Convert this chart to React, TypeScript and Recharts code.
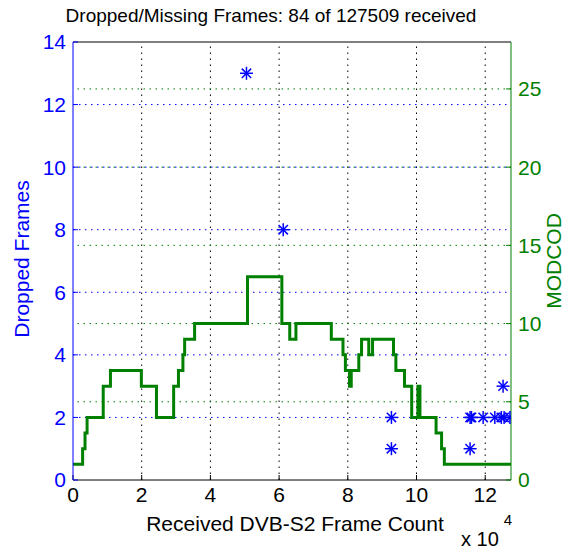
import React from 'react';
import { ComposedChart, Line, Scatter, XAxis, YAxis, ReferenceLine } from 'recharts';

// MODCOD step trace (x in units of 10^4 frames)
const modcodX = [0, 0.28, 0.35, 0.41, 0.88, 1.09, 1.99, 2.43, 2.93, 3.07, 3.2, 3.25, 3.54, 5.08, 6.08, 6.31, 6.49, 7.52, 7.86, 7.93, 8.05, 8.1, 8.32, 8.4, 8.61, 8.72, 9.33, 9.4, 9.65, 9.86, 10.04, 10.1, 10.57, 10.73, 10.81, 12.75];
const modcodLevel = [1, 2, 3, 4, 6, 7, 6, 4, 6, 7, 8, 9, 10, 13, 10, 9, 10, 9, 8, 7, 6, 7, 8, 9, 8, 9, 8, 7, 6, 4, 6, 4, 3, 2, 1, 1];

// dropped frames events
const dropX = [5.05, 6.12, 9.27, 9.27, 11.56, 11.56, 11.6, 11.94, 12.28, 12.47, 12.52, 12.55, 12.72];
const dropCount = [13, 8, 2, 1, 1, 2, 2, 2, 2, 2, 3, 2, 2];

const xTicks = [0, 2, 4, 6, 8, 10, 12];
const leftTicks = [0, 2, 4, 6, 8, 10, 12, 14];
const rightTicks = [0, 5, 10, 15, 20, 25];

const BLUE = '#0000ff';
const GREEN = '#008000';
const FONT = '"Liberation Sans", Arial, sans-serif';

const modcodData = modcodX.map((x, i) => ({ x, v: modcodLevel[i] }));
const dropData = dropX.map((x, i) => ({ x, d: dropCount[i] }));

const Asterisk = (props: any) => {
  const { cx, cy } = props;
  const r = 6.5;
  const k = r * 0.72;
  return (
    <g stroke={BLUE} strokeWidth={1.5}>
      <line x1={cx - r} y1={cy} x2={cx + r} y2={cy} />
      <line x1={cx} y1={cy - r} x2={cx} y2={cy + r} />
      <line x1={cx - k} y1={cy - k} x2={cx + k} y2={cy + k} />
      <line x1={cx - k} y1={cy + k} x2={cx + k} y2={cy - k} />
    </g>
  );
};

const dots = '1.5 4.5';

export default function App() {
  return (
    <div style={{ position: 'absolute', left: 0, top: 0, width: 573, height: 550, background: '#fff', fontFamily: FONT }}>
      <div style={{ position: 'absolute', left: 0, width: 542, top: 5, textAlign: 'center', fontSize: 19, color: '#000' }}>
        Dropped/Missing Frames: 84 of 127509 received
      </div>
      <div style={{ position: 'absolute', left: 461, top: 528, fontSize: 20, color: '#000' }}>
        x 10<span style={{ position: 'relative', top: -21, left: 5, fontSize: 15 }}>4</span>
      </div>
      <ComposedChart
        width={573}
        height={550}
        margin={{ top: 42, right: 22, bottom: 40, left: 33 }}
        style={{ fontFamily: FONT }}
      >
        {xTicks.slice(1).map(t => (
          <ReferenceLine key={'vx' + t} x={t} yAxisId="left" stroke="#000" strokeDasharray={dots} />
        ))}
        {leftTicks.slice(1, -1).map(t => (
          <ReferenceLine key={'hl' + t} y={t} yAxisId="left" stroke={BLUE} strokeDasharray={dots} />
        ))}
        {rightTicks.slice(1).map(t => (
          <ReferenceLine key={'hr' + t} y={t} yAxisId="right" stroke={GREEN} strokeDasharray={dots} />
        ))}
        <ReferenceLine y={14} yAxisId="left" stroke="#000" />
        <XAxis
          dataKey="x"
          type="number"
          domain={[0, 12.7509]}
          ticks={xTicks}
          allowDataOverflow
          stroke="#000"
          height={30}
          tickSize={-5}
          tickMargin={12}
          tick={{ fill: '#000', fontSize: 21 }}
          label={{
            content: () => (
              <text x={295} y={531} textAnchor="middle" fontSize={21} fill="#000" fontFamily={FONT}>
                Received DVB-S2 Frame Count
              </text>
            ),
          }}
        />
        <YAxis
          yAxisId="left"
          domain={[0, 14]}
          ticks={leftTicks}
          allowDataOverflow
          width={40}
          stroke={BLUE}
          tickSize={-5}
          tickMargin={12}
          tick={{ fill: BLUE, fontSize: 21 }}
          label={{
            content: () => (
              <text x={29} y={259} transform="rotate(-90 29 259)" textAnchor="middle" fontSize={21} fill={BLUE} fontFamily={FONT}>
                Dropped Frames
              </text>
            ),
          }}
        />
        <YAxis
          yAxisId="right"
          orientation="right"
          domain={[0, 28]}
          ticks={rightTicks}
          allowDataOverflow
          width={40}
          stroke={GREEN}
          tickSize={-5}
          tickMargin={12}
          tick={{ fill: GREEN, fontSize: 21 }}
          label={{
            content: () => (
              <text x={561} y={261} transform="rotate(-90 561 261)" textAnchor="middle" fontSize={21} fill={GREEN} fontFamily={FONT}>
                MODCOD
              </text>
            ),
          }}
        />
        <Line
          yAxisId="right"
          data={modcodData}
          dataKey="v"
          type="stepAfter"
          stroke={GREEN}
          strokeWidth={3}
          dot={false}
          isAnimationActive={false}
        />
        <Scatter
          yAxisId="left"
          data={dropData}
          dataKey="d"
          shape={Asterisk}
          isAnimationActive={false}
        />
      </ComposedChart>
    </div>
  );
}
